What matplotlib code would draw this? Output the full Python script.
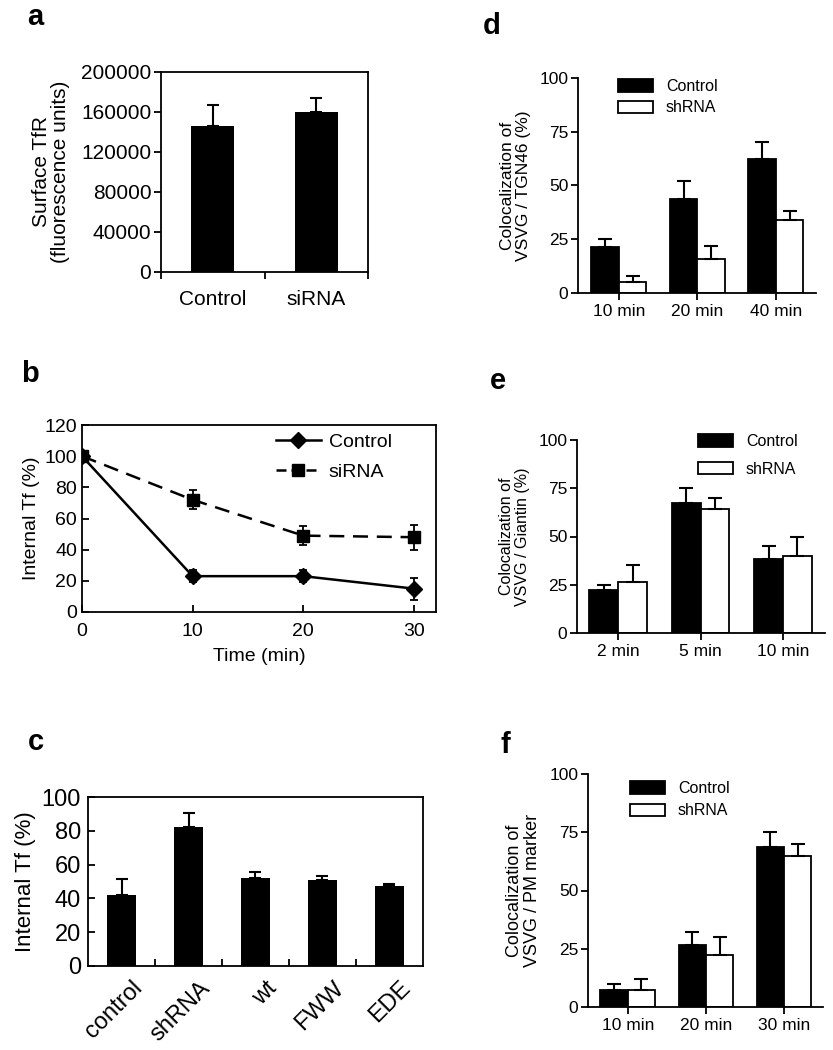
import matplotlib
matplotlib.use("Agg")
import matplotlib.pyplot as plt
from matplotlib.patches import Patch
from matplotlib.lines import Line2D
import numpy as np

plt.rcParams['font.family'] = ['Liberation Sans', 'DejaVu Sans']

# ---------------- data ----------------
# panel a
a_cats = ["Control", "siRNA"]
a_vals = [146000, 160000]
a_err = [21000, 14000]

# panel b
b_time = [0, 10, 20, 30]
b_control = [100, 23, 23, 15]
b_control_err = [0, 4, 4, 7]
b_sirna = [100, 72, 49, 48]
b_sirna_err = [0, 6, 6, 8]

# panel c
c_cats = ["control", "shRNA", "wt", "FWW", "EDE"]
c_vals = [42, 82, 52, 51, 47.5]
c_err = [9.5, 8.5, 3.5, 2, 1]

# panel d
d_cats = ["10 min", "20 min", "40 min"]
d_control = [21.5, 43.5, 62.5]
d_control_err = [3.5, 8.5, 7.5]
d_shrna = [5, 16, 34]
d_shrna_err = [3, 6, 4]

# panel e
e_cats = ["2 min", "5 min", "10 min"]
e_control = [22.5, 67.5, 38.5]
e_control_err = [2.5, 7.5, 6.5]
e_shrna = [26.5, 64, 40]
e_shrna_err = [8.5, 6, 10]

# panel f
f_cats = ["10 min", "20 min", "30 min"]
f_control = [7.5, 26.5, 68.5]
f_control_err = [2.5, 5.5, 6.5]
f_shrna = [7.5, 22.5, 65]
f_shrna_err = [4.5, 7.5, 5]

W, H = 833, 1050
fig = plt.figure(figsize=(W / 100, H / 100), dpi=100)


def ax_at(l, r, t, b):
    return fig.add_axes([l / W, 1 - b / H, (r - l) / W, (b - t) / H])


def panel_label(txt, x, y):
    fig.text(x / W, 1 - y / H, txt, fontsize=21, fontweight='bold',
             ha='center', va='center')


# ---------------- panel a ----------------
ax = ax_at(161, 368, 72, 272)
x = np.arange(len(a_cats))
ax.bar(x, a_vals, width=0.42, color='black')
ax.errorbar(x, a_vals, yerr=[np.zeros(len(a_vals)), a_err], fmt='none',
            ecolor='black', elinewidth=1.5, capsize=4, capthick=1.5)
ax.set_xlim(-0.5, 1.5)
ax.set_ylim(0, 200000)
ax.set_yticks([0, 40000, 80000, 120000, 160000, 200000])
ax.set_xticks([-0.5, 0.5, 1.5])
ax.set_xticklabels([])
ax.set_xticks(x, minor=True)
ax.set_xticklabels(a_cats, minor=True)
ax.tick_params(axis='x', which='minor', length=0, labelsize=15, pad=13)
ax.tick_params(axis='x', which='major', direction='out', length=5, width=1.3)
ax.tick_params(axis='y', direction='out', length=5, width=1.3, labelsize=15, pad=2)
ax.set_ylabel("Surface TfR\n(fluorescence units)", fontsize=15, labelpad=8,
              linespacing=1.0)
for s in ax.spines.values():
    s.set_linewidth(1.3)
panel_label("a", 35, 17)

# ---------------- panel b ----------------
ax = ax_at(82, 436, 425, 612)
ax.errorbar(b_time, b_control, yerr=b_control_err, color='black', lw=1.8,
            marker='D', markersize=8, capsize=3, elinewidth=1.3,
            capthick=1.3, label="Control")
ax.errorbar(b_time, b_sirna, yerr=b_sirna_err, color='black', lw=1.8,
            marker='s', markersize=9, capsize=3, elinewidth=1.3,
            capthick=1.3, dashes=(6, 3.5), label="siRNA")
ax.set_xlim(0, 32)
ax.set_ylim(0, 120)
ax.set_xticks([0, 10, 20, 30])
ax.set_yticks([0, 20, 40, 60, 80, 100, 120])
ax.tick_params(direction='in', length=5, width=1.3, labelsize=14)
ax.tick_params(axis='x', pad=8)
ax.set_xlabel("Time (min)", fontsize=14, labelpad=6)
ax.set_ylabel("Internal Tf (%)", fontsize=14, labelpad=3)
for s in ax.spines.values():
    s.set_linewidth(1.3)
h1 = Line2D([], [], color='black', lw=1.8, marker='D', markersize=8)
h2 = Line2D([], [], color='black', lw=1.8, marker='s', markersize=9,
            dashes=(4, 2))
ax.legend([h1, h2], ["Control", "siRNA"], loc='upper left',
          bbox_to_anchor=((276 - 82) / (436 - 82), 1 - (433 - 425) / (612 - 425)),
          frameon=False, fontsize=14, handlelength=2.3, borderpad=0,
          borderaxespad=0, labelspacing=0.65, handletextpad=0.4)
panel_label("b", 30, 374)

# ---------------- panel c ----------------
ax = ax_at(88, 423, 797, 966)
x = np.arange(len(c_cats))
ax.bar(x, c_vals, width=0.42, color='black')
ax.errorbar(x, c_vals, yerr=[np.zeros(len(c_vals)), c_err], fmt='none',
            ecolor='black', elinewidth=1.5, capsize=4, capthick=1.5)
ax.set_xlim(-0.5, len(c_cats) - 0.5)
ax.set_ylim(0, 100)
ax.set_yticks([0, 20, 40, 60, 80, 100])
ax.set_xticks(np.arange(0.5, len(c_cats) - 0.5))
ax.set_xticklabels([])
# labels anchored slightly right of the bar centres (tick length 0)
ax.set_xticks(x + 0.15, minor=True)
ax.set_xticklabels(c_cats, minor=True, rotation=45, ha='right',
                   rotation_mode='anchor')
ax.tick_params(axis='x', which='minor', length=0, labelsize=17, pad=8)
ax.tick_params(axis='x', which='major', direction='in', length=5, width=1.3)
ax.tick_params(axis='y', direction='in', length=5, width=1.3, labelsize=17, pad=5)
ax.set_ylabel("Internal Tf (%)", fontsize=16, labelpad=4)
for s in ax.spines.values():
    s.set_linewidth(1.3)
panel_label("c", 36, 742)


# ---------------- panels d, e, f ----------------
def grouped(ax, cats, ctrl, ctrl_err, sh, sh_err, xlim, ylabel, ylabel_fs,
            leg_xy, leg_spacing):
    x = np.arange(len(cats))
    w = 0.35
    ax.bar(x - w / 2, ctrl, width=w, color='black', edgecolor='black', lw=1.3)
    ax.bar(x + w / 2, sh, width=w, color='white', edgecolor='black', lw=1.3)
    ax.errorbar(x - w / 2, ctrl, yerr=[np.zeros(len(ctrl)), ctrl_err],
                fmt='none', ecolor='black', elinewidth=1.5, capsize=5,
                capthick=1.5)
    ax.errorbar(x + w / 2, sh, yerr=[np.zeros(len(sh)), sh_err],
                fmt='none', ecolor='black', elinewidth=1.5, capsize=5,
                capthick=1.5)
    ax.set_xlim(*xlim)
    ax.set_ylim(0, 100)
    ax.set_yticks([0, 25, 50, 75, 100])
    ax.set_xticks(x)
    ax.set_xticklabels(cats)
    ax.spines['top'].set_visible(False)
    ax.spines['right'].set_visible(False)
    ax.spines['left'].set_linewidth(1.3)
    ax.spines['bottom'].set_linewidth(1.3)
    ax.tick_params(direction='out', length=5, width=1.3, labelsize=12.5)
    ax.tick_params(axis='x', pad=3)
    ax.tick_params(axis='y', pad=2)
    ax.set_ylabel(ylabel, fontsize=ylabel_fs, labelpad=6, linespacing=1.05)
    hc = Patch(facecolor='black', edgecolor='black', lw=1.3)
    hs = Patch(facecolor='white', edgecolor='black', lw=1.3)
    bb = ax.get_position()
    lx = (leg_xy[0] / W - bb.x0) / bb.width
    ly = ((1 - leg_xy[1] / H) - bb.y0) / bb.height
    ax.legend([hc, hs], ["Control", "shRNA"], loc='upper left',
              bbox_to_anchor=(lx, ly), frameon=False, fontsize=11.5,
              handlelength=2.2, handleheight=0.8, borderpad=0,
              borderaxespad=0, labelspacing=leg_spacing, handletextpad=0.8)


ax = ax_at(578, 816, 78, 293)
grouped(ax, d_cats, d_control, d_control_err, d_shrna, d_shrna_err,
        (-0.52, 2.51), "Colocalization of\nVSVG / TGN46 (%)", 12.5,
        (618, 79), 0.4)
panel_label("d", 492, 26)

ax = ax_at(577, 825, 440, 633)
grouped(ax, e_cats, e_control, e_control_err, e_shrna, e_shrna_err,
        (-0.5, 2.51), "Colocalization of\nVSVG / Giantin (%)", 11.5,
        (698, 434), 0.8)
panel_label("e", 498, 381)

ax = ax_at(588, 823, 774, 1007)
grouped(ax, f_cats, f_control, f_control_err, f_shrna, f_shrna_err,
        (-0.51, 2.5), "Colocalization of\nVSVG / PM marker", 13,
        (630, 781), 0.45)
panel_label("f", 505, 745)

fig.savefig("out.png", dpi=100)
